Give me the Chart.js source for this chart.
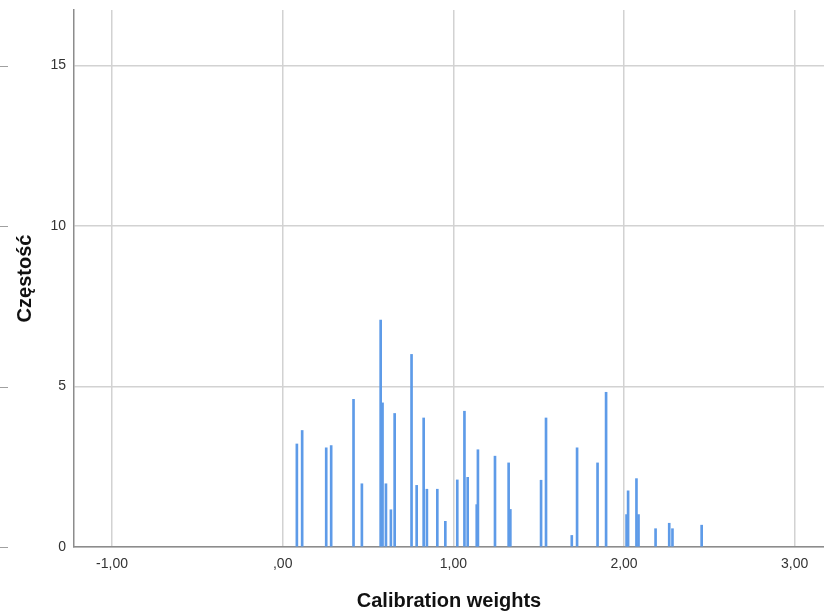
<!DOCTYPE html>
<html>
<head>
<meta charset="utf-8">
<script src="https://cdn.jsdelivr.net/npm/chart.js@4"></script>
<style>
  body { margin: 0; background: #fff; }
  canvas { display: block; }
</style>
</head>
<body>
<canvas id="hist" width="824" height="614"></canvas>
<script>
// wagi kalibracyjne i ich (ważone) częstości
const weights = [0.083, 0.114, 0.255, 0.284, 0.415, 0.464, 0.574, 0.585, 0.605, 0.634,
                 0.656, 0.755, 0.785, 0.826, 0.845, 0.906, 0.953, 1.023, 1.065, 1.084,
                 1.137, 1.144, 1.244, 1.324, 1.334, 1.514, 1.543, 1.694, 1.725, 1.845,
                 1.895, 2.015, 2.024, 2.073, 2.085, 2.185, 2.265, 2.284, 2.455];
const counts = [3.21, 3.63, 3.09, 3.16, 4.60, 1.97, 7.07, 4.49, 1.97, 1.16,
                4.16, 6.00, 1.92, 4.02, 1.80, 1.80, 0.80, 2.09, 4.23, 2.17,
                1.32, 3.03, 2.83, 2.62, 1.17, 2.08, 4.02, 0.36, 3.09, 2.62,
                4.82, 1.01, 1.75, 2.13, 1.01, 0.57, 0.74, 0.57, 0.68];
const xTicks = [-1, 0, 1, 2, 3];
const yTicks = [0, 5, 10, 15];

const points = weights.map((w, i) => ({ x: w, y: counts[i] }));

const fmt = v => v === 0 ? ',00' : v.toFixed(2).replace('.', ',');

// krótkie kreski przy lewej krawędzi
const edgeMarks = {
    id: 'edgeMarks',
    afterDraw(chart) {
        const ctx = chart.ctx;
        const y = chart.scales.y;
        ctx.save();
        ctx.strokeStyle = '#a0a0a0';
        ctx.lineWidth = 1;
        yTicks.forEach(t => {
            const py = Math.round(y.getPixelForValue(t)) + 0.5;
            ctx.beginPath();
            ctx.moveTo(0, py);
            ctx.lineTo(8, py);
            ctx.stroke();
        });
        ctx.restore();
    }
};

new Chart(document.getElementById('hist').getContext('2d'), {
    type: 'bar',
    data: {
        datasets: [{
            data: points,
            backgroundColor: '#5e9be8',
            barThickness: 2,
            borderWidth: 0
        }]
    },
    options: {
        responsive: false,
        animation: false,
        layout: { padding: { top: 10, right: 0, left: 0, bottom: 0 } },
        plugins: { legend: { display: false }, tooltip: { enabled: false } },
        scales: {
            x: {
                type: 'linear',
                offset: false,
                min: -1.223,
                max: 3.172,
                afterBuildTicks: s => { s.ticks = xTicks.map(v => ({ value: v })); },
                afterFit: s => { s.height = 67; s.paddingLeft = 0; s.paddingRight = 0; },
                grid: { color: '#d2d2d2', lineWidth: 1.5, drawTicks: false, offset: false },
                border: { display: true, color: '#8c8c8c', width: 1.5 },
                ticks: {
                    padding: 9,
                    color: '#333',
                    font: { family: 'Liberation Sans, Arial', size: 14 },
                    callback: v => fmt(v),
                    maxRotation: 0
                },
                title: {
                    display: true,
                    text: 'Calibration weights',
                    color: '#111',
                    font: { family: 'Liberation Sans, Arial', size: 20, weight: 'bold' },
                    padding: { top: 0, bottom: 1 }
                }
            },
            y: {
                min: 0,
                max: 16.73,
                afterBuildTicks: s => { s.ticks = yTicks.map(v => ({ value: v })); },
                afterFit: s => { s.width = 74; s.paddingTop = 0; s.paddingBottom = 0; },
                grid: { color: '#d2d2d2', lineWidth: 1.5, drawTicks: false },
                border: { display: true, color: '#8c8c8c', width: 1.5 },
                ticks: {
                    padding: 8,
                    color: '#333',
                    font: { family: 'Liberation Sans, Arial', size: 14 }
                },
                title: {
                    display: true,
                    text: 'Częstość',
                    color: '#111',
                    font: { family: 'Liberation Sans, Arial', size: 20, weight: 'bold' },
                    padding: { top: 13, bottom: 0 }
                }
            }
        }
    },
    plugins: [edgeMarks]
});
</script>
</body>
</html>
